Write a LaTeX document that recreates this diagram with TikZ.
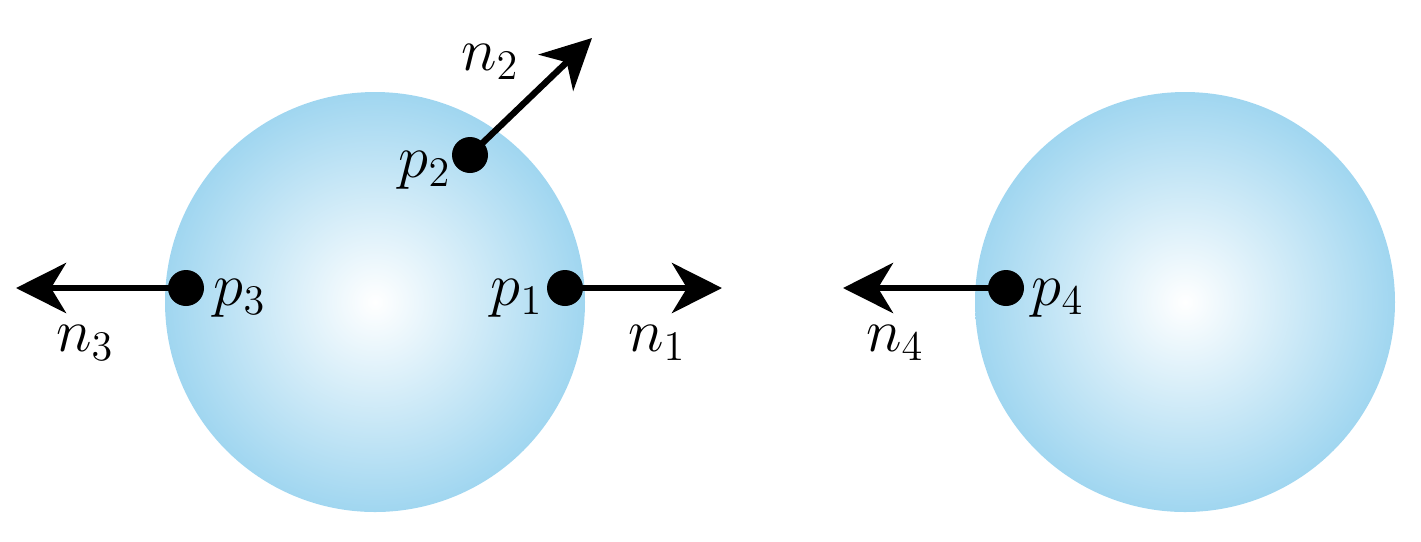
\documentclass[tikz,border=0pt]{standalone}
\usetikzlibrary{arrows.meta}
\definecolor{sky}{RGB}{160,214,240}
\begin{document}
\begin{tikzpicture}[x=0.1mm,y=-0.1mm,
  vec/.style={line width=1.8pt,-{Stealth[length=5mm,width=5mm,inset=1.5mm]}},
  dot/.style={circle,fill=black,inner sep=0,minimum size=3.6mm},
  lab/.style={font=\fontsize{17}{19}\selectfont}]
\useasboundingbox (0,0) rectangle (1421,541);
\shade[inner color=white,outer color=sky] (375,302) circle (210);
\shade[inner color=white,outer color=sky] (1185,302) circle (210);
\node[dot] (p1) at (565,288) {};
\node[dot] (p2) at (470,155) {};
\node[dot] (p3) at (186,288) {};
\node[dot] (p4) at (1006,288) {};
\coordinate (e1) at (722,288);
\coordinate (e2) at (592,38);
\coordinate (e3) at (16,288);
\coordinate (e4) at (843,288);
\draw[vec] (p1.center) -- (e1);
\draw[vec] (p2.center) -- (e2);
\draw[vec] (p3.center) -- (e3);
\draw[vec] (p4.center) -- (e4);
\node[lab] (lp1) at (517,298) {$p_1$};
\node[lab] (lp2) at (425,170) {$p_2$};
\node[lab] (lp3) at (240,298) {$p_3$};
\node[lab] (lp4) at (1058,298) {$p_4$};
\node[lab] (ln1) at (657,343) {$n_1$};
\node[lab] (ln2) at (490,62) {$n_2$};
\node[lab] (ln3) at (85,343) {$n_3$};
\node[lab] (ln4) at (895,343) {$n_4$};
\end{tikzpicture}
\end{document}
